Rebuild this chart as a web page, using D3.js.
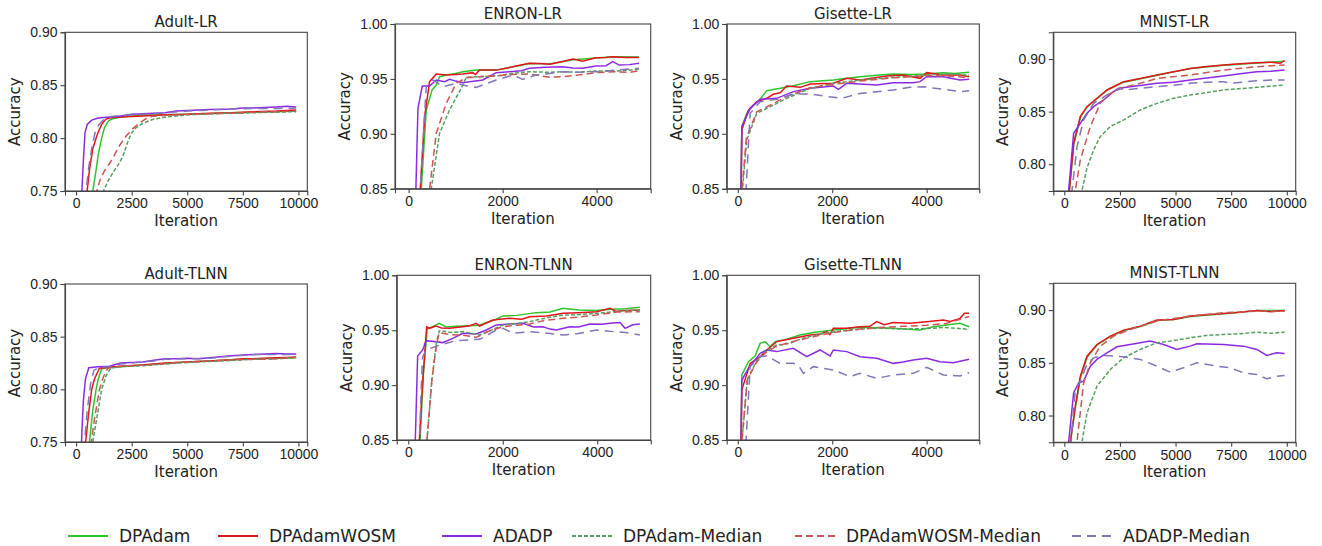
<!DOCTYPE html>
<meta charset="utf-8">
<style>
  body { margin: 0; background: #fff; }
  svg { font-family: "DejaVu Sans", sans-serif; }
  .axis path, .axis line { stroke: #444; stroke-width: 1.1px; }
  .axis text { fill: #222; font-size: 14px; }
  .title, .label { fill: #222; font-size: 15px; }
  .legend text { fill: #222; font-size: 17px; }
</style>
<body></body>
<script src="https://cdn.jsdelivr.net/npm/d3@7"></script>
<script>
// series names, legend order
var seriesNames = ["DPAdam", "DPAdamWOSM", "ADADP", "DPAdam-Median", "DPAdamWOSM-Median", "ADADP-Median"];

// [iteration, accuracy] pairs
var adultLR_DPAdam = [[0,0.62],[500,0.70],[750,0.75],[900,0.77],[1000,0.785],[1150,0.80],[1275,0.81],[1450,0.816],[1600,0.818],[2000,0.820],[2500,0.821],[3000,0.8215],[4000,0.822],[5000,0.8225],[6000,0.823],[7000,0.824],[8000,0.8245],[9000,0.825],[9900,0.8255]];
var adultLR_DPAdamWOSM = [[0,0.60],[300,0.68],[496,0.75],[600,0.77],[750,0.79],[900,0.80],[1000,0.806],[1150,0.813],[1340,0.818],[1600,0.8195],[2000,0.820],[2500,0.8205],[3000,0.821],[4000,0.822],[5000,0.8225],[6000,0.8235],[7000,0.824],[8000,0.825],[9000,0.8255],[9900,0.8265]];
var adultLR_ADADP = [[0,0.62],[200,0.73],[260,0.75],[330,0.78],[400,0.805],[500,0.813],[700,0.817],[1000,0.819],[1500,0.820],[2000,0.821],[2500,0.8225],[3000,0.823],[3500,0.8235],[4000,0.824],[4500,0.8255],[5000,0.826],[6000,0.827],[7000,0.8275],[7500,0.8285],[8000,0.8285],[8500,0.829],[9000,0.8295],[9500,0.830],[9900,0.8295]];
var adultLR_DPAdamMed = [[0,0.58],[800,0.70],[1230,0.75],[1450,0.76],[1650,0.767],[1900,0.775],[2100,0.7825],[2300,0.795],[2480,0.8045],[2700,0.810],[3000,0.814],[3500,0.818],[4060,0.820],[5000,0.822],[6000,0.823],[7000,0.8235],[8000,0.824],[9000,0.8245],[9900,0.825]];
var adultLR_DPAdamWOSMMed = [[0,0.58],[600,0.70],[930,0.75],[1100,0.762],[1300,0.770],[1505,0.776],[1700,0.783],[1955,0.793],[2250,0.802],[2555,0.809],[2900,0.815],[3310,0.8203],[4000,0.8215],[5000,0.8225],[6000,0.823],[7000,0.8235],[8000,0.8245],[9000,0.825],[9900,0.8255]];
var adultLR_ADADPMed = [[0,0.60],[300,0.70],[450,0.75],[550,0.77],[700,0.79],[850,0.805],[1000,0.812],[1300,0.819],[1600,0.8205],[2000,0.821],[2500,0.822],[3000,0.8225],[3500,0.823],[4000,0.824],[5000,0.8255],[6000,0.8265],[7000,0.8275],[8000,0.828],[9000,0.828],[9900,0.8285]];

var enronLR_DPAdam = [[0,0.50],[170,0.70],[269,0.85],[375,0.9217],[500,0.940],[588,0.9444],[658,0.952],[800,0.9535],[1000,0.955],[1154,0.9566],[1437,0.958],[1862,0.958],[2287,0.9615],[2570,0.964],[3000,0.9635],[3500,0.9675],[3986,0.969],[4340,0.9702],[4900,0.970]];
var enronLR_DPAdamWOSM = [[0,0.50],[150,0.70],[248,0.85],[340,0.9156],[446,0.9475],[588,0.9545],[800,0.9535],[1000,0.954],[1154,0.9545],[1366,0.9557],[1420,0.954],[1508,0.958],[1862,0.958],[2100,0.960],[2287,0.9617],[2570,0.9642],[2800,0.964],[3000,0.9633],[3300,0.966],[3500,0.968],[3700,0.966],[3986,0.9693],[4200,0.9695],[4340,0.9702],[4600,0.9695],[4900,0.9696]];
var enronLR_ADADP = [[0,0.50],[100,0.70],[149,0.84],[198,0.923],[290,0.9435],[446,0.9435],[588,0.949],[765,0.9475],[871,0.9496],[1000,0.948],[1154,0.9466],[1296,0.9475],[1579,0.949],[1862,0.9557],[2145,0.9566],[2400,0.9575],[2570,0.9596],[2900,0.9605],[3278,0.9611],[3500,0.960],[3703,0.9596],[3986,0.9617],[4200,0.962],[4340,0.9657],[4481,0.9626],[4700,0.963],[4900,0.9642]];
var enronLR_DPAdamMed = [[0,0.50],[350,0.75],[481,0.85],[658,0.9004],[871,0.9217],[1000,0.932],[1119,0.9414],[1225,0.9514],[1500,0.952],[1862,0.9526],[2200,0.955],[2570,0.9566],[3000,0.956],[3278,0.9566],[3600,0.956],[3986,0.9572],[4400,0.957],[4900,0.9587]];
var enronLR_DPAdamWOSMMed = [[0,0.50],[300,0.75],[446,0.85],[588,0.9004],[800,0.9277],[1012,0.946],[1225,0.951],[1500,0.952],[1862,0.9526],[2200,0.954],[2570,0.9545],[3000,0.9515],[3278,0.952],[3600,0.9535],[3986,0.9557],[4400,0.9565],[4700,0.956],[4900,0.9575]];
var enronLR_ADADPMed = [[0,0.50],[150,0.70],[248,0.85],[375,0.9429],[517,0.949],[729,0.9429],[1012,0.946],[1200,0.944],[1437,0.9423],[1862,0.949],[2216,0.9535],[2428,0.9496],[2711,0.9535],[3000,0.955],[3278,0.9566],[3600,0.956],[3986,0.9566],[4400,0.958],[4900,0.9596]];

var gisetteLR_DPAdam = [[0,0.60],[70,0.85],[85,0.9065],[190,0.9186],[332,0.9262],[473,0.9314],[614,0.9393],[896,0.9414],[1178,0.9438],[1531,0.9475],[2025,0.949],[2589,0.952],[3000,0.9535],[3294,0.9545],[3700,0.954],[4000,0.9545],[4353,0.9557],[4600,0.955],[4900,0.956]];
var gisetteLR_DPAdamWOSM = [[0,0.60],[70,0.85],[85,0.9034],[226,0.9216],[402,0.9292],[614,0.9323],[750,0.936],[896,0.9374],[1037,0.9435],[1319,0.9423],[1531,0.9453],[2025,0.946],[2307,0.9505],[2589,0.949],[3153,0.9526],[3506,0.9535],[3859,0.9505],[4000,0.9557],[4353,0.9535],[4706,0.9535],[4900,0.952]];
var gisetteLR_ADADP = [[0,0.60],[70,0.85],[85,0.9065],[261,0.9232],[473,0.9314],[825,0.9323],[1178,0.9384],[1531,0.9414],[2025,0.9435],[2131,0.9405],[2307,0.946],[2942,0.9444],[3294,0.9466],[3718,0.9466],[3859,0.9475],[4000,0.952],[4353,0.952],[4706,0.949],[4900,0.9496]];
var gisetteLR_DPAdamMed = [[0,0.60],[100,0.85],[190,0.8943],[402,0.9186],[684,0.9247],[1037,0.9323],[1531,0.9414],[2025,0.946],[2589,0.949],[3294,0.9514],[4000,0.9535],[4500,0.9545],[4900,0.9535]];
var gisetteLR_DPAdamWOSMMed = [[0,0.60],[90,0.85],[180,0.896],[402,0.920],[684,0.926],[1037,0.934],[1531,0.942],[2025,0.945],[2589,0.948],[3294,0.951],[4000,0.953],[4500,0.9525],[4900,0.951]];
var gisetteLR_ADADPMed = [[0,0.60],[176,0.85],[261,0.9186],[473,0.9292],[825,0.9314],[1178,0.9362],[1531,0.9362],[2025,0.9332],[2201,0.9323],[2589,0.9368],[2942,0.9384],[3294,0.9399],[3647,0.9423],[3929,0.9429],[4353,0.9405],[4706,0.9384],[4900,0.9393]];

var mnistLR_DPAdam = [[0,0.60],[230,0.775],[430,0.819],[730,0.845],[1030,0.8545],[1480,0.8625],[1930,0.8705],[2680,0.878],[3430,0.8812],[4180,0.8845],[4930,0.8878],[5680,0.891],[7180,0.894],[8680,0.8962],[9900,0.898]];
var mnistLR_DPAdamWOSM = [[0,0.60],[225,0.775],[419,0.820],[719,0.8453],[1018,0.8547],[1467,0.8627],[1916,0.8706],[2665,0.8785],[3413,0.8816],[4162,0.8848],[4910,0.888],[5659,0.8911],[6400,0.893],[7156,0.8943],[7900,0.8955],[8653,0.8965],[9300,0.897],[9701,0.8959],[9900,0.8984]];
var mnistLR_ADADP = [[0,0.60],[195,0.775],[419,0.8294],[719,0.8389],[1018,0.8484],[1317,0.8547],[1766,0.8611],[2216,0.869],[2440,0.8722],[2964,0.8737],[3500,0.875],[4162,0.8769],[4900,0.878],[5659,0.8801],[6400,0.882],[7156,0.8839],[7900,0.886],[8653,0.888],[9300,0.8885],[9900,0.8896]];
var mnistLR_DPAdamMed = [[0,0.60],[793,0.775],[1018,0.7965],[1317,0.8136],[1617,0.8263],[2066,0.8358],[2665,0.8421],[3413,0.8516],[4162,0.8579],[4910,0.8627],[5659,0.8658],[7156,0.8706],[8653,0.8731],[9900,0.8753]];
var mnistLR_DPAdamWOSMMed = [[0,0.60],[494,0.775],[719,0.8041],[1168,0.8358],[1617,0.8579],[2066,0.8674],[2665,0.8731],[3413,0.8769],[4162,0.8816],[5659,0.8848],[7156,0.8896],[8653,0.8927],[9900,0.8943]];
var mnistLR_ADADPMed = [[0,0.60],[345,0.775],[569,0.8168],[868,0.8421],[1317,0.8579],[1916,0.8658],[2515,0.8722],[2665,0.8706],[3413,0.8722],[4162,0.8737],[4900,0.875],[5659,0.8769],[6400,0.878],[7156,0.8785],[7500,0.877],[8653,0.8794],[9300,0.880],[9900,0.880]];

var adultTL_DPAdam = [[0,0.60],[400,0.70],[600,0.75],[750,0.78],[900,0.80],[1000,0.81],[1150,0.8195],[1500,0.821],[2000,0.8215],[3000,0.823],[4000,0.8245],[5000,0.826],[6000,0.827],[7000,0.828],[8000,0.829],[9000,0.8295],[9900,0.830]];
var adultTL_DPAdamWOSM = [[0,0.60],[300,0.70],[430,0.75],[550,0.775],[700,0.80],[830,0.81],[1050,0.82],[1500,0.821],[2000,0.822],[3000,0.823],[4000,0.825],[5000,0.826],[6000,0.827],[7000,0.828],[7500,0.829],[8000,0.829],[9000,0.830],[9900,0.8305]];
var adultTL_ADADP = [[0,0.62],[200,0.72],[260,0.76],[330,0.79],[420,0.81],[570,0.8205],[800,0.821],[1000,0.8215],[1500,0.822],[2000,0.825],[2500,0.8255],[3000,0.826],[3500,0.8275],[4000,0.829],[4500,0.829],[5000,0.8295],[5500,0.829],[6000,0.830],[6500,0.831],[7000,0.832],[7500,0.8325],[8000,0.833],[8500,0.8335],[9000,0.834],[9500,0.8335],[9900,0.8335]];
var adultTL_DPAdamMed = [[0,0.58],[550,0.70],[750,0.75],[950,0.775],[1150,0.80],[1350,0.813],[1550,0.82],[2000,0.8215],[3000,0.8225],[4000,0.824],[5000,0.8255],[6000,0.8265],[7000,0.8275],[8000,0.8285],[9000,0.829],[9900,0.8305]];
var adultTL_DPAdamWOSMMed = [[0,0.58],[500,0.70],[680,0.75],[850,0.775],[1050,0.80],[1250,0.813],[1430,0.82],[2000,0.822],[3000,0.823],[4000,0.8245],[5000,0.826],[6000,0.827],[7000,0.828],[8000,0.8285],[9000,0.829],[9900,0.8305]];
var adultTL_ADADPMed = [[0,0.60],[300,0.71],[380,0.75],[500,0.78],[650,0.805],[800,0.818],[1000,0.8205],[1500,0.8215],[2000,0.824],[2500,0.825],[3000,0.826],[3500,0.827],[4000,0.8285],[5000,0.829],[6000,0.8295],[7000,0.8315],[8000,0.833],[9000,0.833],[9900,0.833]];

var enronTL_DPAdam = [[0,0.50],[160,0.70],[250,0.85],[320,0.91],[400,0.951],[500,0.953],[658,0.9563],[800,0.953],[1000,0.9535],[1300,0.954],[1500,0.9545],[1862,0.960],[2000,0.963],[2300,0.9635],[2700,0.966],[3000,0.9665],[3278,0.970],[3600,0.9685],[3986,0.968],[4300,0.969],[4600,0.9695],[4900,0.9708]];
var enronTL_DPAdamWOSM = [[0,0.50],[150,0.70],[234,0.85],[300,0.90],[389,0.9532],[446,0.9517],[588,0.9538],[700,0.952],[871,0.9517],[1154,0.9532],[1300,0.954],[1437,0.9563],[1508,0.9538],[1791,0.9593],[2145,0.9608],[2400,0.960],[2570,0.9623],[2924,0.963],[3278,0.9654],[3600,0.966],[3986,0.9669],[4269,0.9699],[4400,0.967],[4481,0.9678],[4900,0.9684]];
var enronTL_ADADP = [[0,0.50],[100,0.70],[149,0.85],[198,0.9265],[304,0.932],[375,0.9405],[500,0.940],[729,0.9387],[942,0.9426],[1154,0.9472],[1437,0.9466],[1650,0.9502],[1862,0.9548],[2145,0.9557],[2428,0.9563],[2650,0.953],[2853,0.9532],[3000,0.951],[3136,0.9502],[3420,0.9532],[3600,0.953],[3844,0.9557],[4100,0.9555],[4269,0.9563],[4481,0.9569],[4588,0.9517],[4750,0.955],[4900,0.9557]];
var enronTL_DPAdamMed = [[0,0.50],[250,0.75],[396,0.85],[500,0.905],[600,0.940],[658,0.9496],[900,0.948],[1154,0.9487],[1508,0.9456],[1800,0.951],[2004,0.9548],[2300,0.956],[2570,0.9578],[2900,0.961],[3278,0.9639],[3600,0.964],[3986,0.9654],[4400,0.967],[4900,0.9684]];
var enronTL_DPAdamWOSMMed = [[0,0.50],[250,0.75],[396,0.85],[500,0.905],[600,0.938],[658,0.9478],[900,0.946],[1154,0.9455],[1437,0.9435],[1700,0.949],[2004,0.9532],[2300,0.9545],[2570,0.9557],[2900,0.959],[3278,0.9608],[3600,0.962],[3986,0.9639],[4400,0.9665],[4900,0.9669]];
var enronTL_ADADPMed = [[0,0.50],[150,0.70],[234,0.85],[300,0.925],[375,0.932],[658,0.9365],[1012,0.9405],[1508,0.9417],[1862,0.9502],[2004,0.9517],[2216,0.9472],[2570,0.9487],[2900,0.9475],[3278,0.9456],[3600,0.947],[3986,0.9502],[4340,0.9487],[4600,0.948],[4900,0.9456]];

var gisetteTL_DPAdam = [[0,0.60],[70,0.85],[85,0.9092],[226,0.9213],[367,0.9265],[473,0.938],[578,0.9396],[684,0.935],[790,0.9396],[1037,0.9417],[1319,0.9456],[1601,0.9478],[2025,0.9502],[2589,0.9526],[3294,0.9517],[3859,0.9502],[4141,0.9532],[4423,0.9548],[4706,0.9563],[4900,0.9532]];
var gisetteTL_DPAdamWOSM = [[0,0.60],[70,0.85],[85,0.8955],[261,0.9198],[473,0.9259],[614,0.932],[825,0.9396],[1178,0.9426],[1531,0.9456],[1750,0.9465],[1884,0.9487],[1950,0.946],[2025,0.9517],[2307,0.9517],[2589,0.9532],[2800,0.9535],[2942,0.9578],[3100,0.955],[3294,0.9569],[3647,0.9563],[4000,0.9578],[4353,0.9593],[4500,0.958],[4706,0.9608],[4800,0.9654],[4900,0.9654]];
var gisetteTL_ADADP = [[0,0.60],[70,0.85],[85,0.9046],[226,0.9153],[473,0.9289],[614,0.932],[825,0.9305],[1178,0.9335],[1460,0.9259],[1743,0.932],[1954,0.9265],[2025,0.932],[2307,0.9305],[2589,0.9259],[2942,0.9244],[3294,0.9198],[3500,0.921],[3718,0.9229],[4000,0.9244],[4282,0.9213],[4564,0.9204],[4900,0.9235]];
var gisetteTL_DPAdamMed = [[0,0.60],[90,0.85],[200,0.905],[400,0.922],[600,0.931],[800,0.936],[1100,0.938],[1400,0.943],[1800,0.947],[2200,0.9495],[2600,0.951],[3000,0.952],[3500,0.951],[4000,0.9515],[4400,0.9525],[4900,0.9508]];
var gisetteTL_DPAdamWOSMMed = [[0,0.60],[90,0.85],[200,0.905],[400,0.921],[600,0.930],[800,0.935],[1100,0.939],[1400,0.942],[1800,0.946],[2200,0.949],[2600,0.951],[3000,0.9525],[3500,0.9535],[4000,0.9545],[4400,0.956],[4900,0.9625]];
var gisetteTL_ADADPMed = [[0,0.60],[176,0.85],[261,0.9168],[473,0.9259],[614,0.9265],[896,0.9198],[1178,0.9198],[1300,0.917],[1390,0.9107],[1601,0.9168],[2025,0.9138],[2378,0.9077],[2589,0.9107],[2942,0.9062],[3294,0.9092],[3718,0.9107],[4000,0.9162],[4353,0.9092],[4706,0.9083],[4900,0.9113]];

var mnistTL_DPAdam = [[0,0.60],[280,0.775],[500,0.808],[730,0.836],[1030,0.8555],[1480,0.867],[2080,0.875],[2680,0.8805],[3430,0.8845],[4180,0.890],[4930,0.891],[5680,0.894],[7180,0.8965],[8680,0.8995],[9900,0.8995]];
var mnistTL_DPAdamWOSM = [[0,0.60],[270,0.775],[494,0.8089],[719,0.8373],[1018,0.8563],[1467,0.8674],[2066,0.8753],[2665,0.881],[3413,0.8848],[4162,0.8905],[4910,0.8911],[5659,0.8943],[6400,0.8955],[7156,0.8968],[7900,0.898],[8653,0.8997],[9300,0.8985],[9900,0.8997]];
var mnistTL_ADADP = [[0,0.60],[195,0.775],[419,0.8215],[644,0.831],[868,0.8326],[1168,0.8468],[1467,0.8532],[1916,0.8595],[2365,0.8652],[2964,0.8674],[3862,0.8706],[4461,0.8674],[5060,0.8627],[5659,0.8658],[5958,0.868],[7156,0.8674],[8054,0.8658],[8653,0.8627],[9102,0.857],[9551,0.8595],[9900,0.8589]];
var mnistTL_DPAdamMed = [[0,0.60],[793,0.775],[1018,0.8025],[1467,0.8278],[2066,0.8437],[2665,0.8547],[3413,0.8627],[4162,0.869],[4910,0.871],[5659,0.8737],[6400,0.876],[7156,0.8769],[7900,0.8775],[8653,0.8791],[9300,0.878],[9900,0.8791]];
var mnistTL_DPAdamWOSMMed = [[0,0.60],[569,0.775],[868,0.831],[1168,0.850],[1617,0.8658],[2216,0.8753],[2964,0.8816],[4162,0.8896],[5659,0.8943],[7156,0.8975],[8653,0.899],[9900,0.899]];
var mnistTL_ADADPMed = [[0,0.60],[300,0.775],[494,0.8247],[719,0.8326],[1018,0.8484],[1317,0.8547],[1766,0.857],[2665,0.8557],[3413,0.8532],[4162,0.8468],[4760,0.8411],[5359,0.8453],[5958,0.850],[6856,0.8468],[7455,0.8453],[8054,0.8405],[8653,0.8389],[9102,0.8348],[9551,0.8373],[9900,0.838]];

// tick values
var ticksX10k = [0, 2500, 5000, 7500, 10000];
var ticksX5k = [0, 2000, 4000];
var ticksYAdult = [0.75, 0.80, 0.85, 0.90];
var ticksYHigh = [0.85, 0.90, 0.95, 1.00];
var ticksYMnist = [0.80, 0.85, 0.90];

// styles
var colors = ["#2ec42e", "#e0161b", "#8a2be2", "#55a05f", "#cc5555", "#8474b8"];
var dashes = [null, null, null, "4,2", "7,4", "9,6"];

var width = 1322, height = 546;
var svg = d3.select("body").append("svg")
    .attr("width", width)
    .attr("height", height);

// panel boxes: [left, top, right, bottom]
var panels = [
  {title: "Adult-LR", box: [65, 32.3, 307.3, 191], xd: [-500, 10400], yd: [0.75, 0.90], xt: ticksX10k, yt: ticksYAdult,
   data: [adultLR_DPAdam, adultLR_DPAdamWOSM, adultLR_ADADP, adultLR_DPAdamMed, adultLR_DPAdamWOSMMed, adultLR_ADADPMed]},
  {title: "ENRON-LR", box: [395, 24, 650.7, 188.7], xd: [-290, 5150], yd: [0.85, 1.00], xt: ticksX5k, yt: ticksYHigh,
   data: [enronLR_DPAdam, enronLR_DPAdamWOSM, enronLR_ADADP, enronLR_DPAdamMed, enronLR_DPAdamWOSMMed, enronLR_ADADPMed]},
  {title: "Gisette-LR", box: [726.7, 24, 979.3, 188.7], xd: [-235, 5115], yd: [0.85, 1.00], xt: ticksX5k, yt: ticksYHigh,
   data: [gisetteLR_DPAdam, gisetteLR_DPAdamWOSM, gisetteLR_ADADP, gisetteLR_DPAdamMed, gisetteLR_DPAdamWOSMMed, gisetteLR_ADADPMed]},
  {title: "MNIST-LR", box: [1053.3, 32.3, 1295.7, 191], xd: [-495, 10400], yd: [0.7746, 0.9254], xt: ticksX10k, yt: ticksYMnist,
   data: [mnistLR_DPAdam, mnistLR_DPAdamWOSM, mnistLR_ADADP, mnistLR_DPAdamMed, mnistLR_DPAdamWOSMMed, mnistLR_ADADPMed]},
  {title: "Adult-TLNN", box: [65, 284, 307.3, 442], xd: [-500, 10400], yd: [0.75, 0.90], xt: ticksX10k, yt: ticksYAdult,
   data: [adultTL_DPAdam, adultTL_DPAdamWOSM, adultTL_ADADP, adultTL_DPAdamMed, adultTL_DPAdamWOSMMed, adultTL_ADADPMed]},
  {title: "ENRON-TLNN", box: [396.7, 275.3, 650.7, 440], xd: [-245, 5130], yd: [0.85, 1.00], xt: ticksX5k, yt: ticksYHigh,
   data: [enronTL_DPAdam, enronTL_DPAdamWOSM, enronTL_ADADP, enronTL_DPAdamMed, enronTL_DPAdamWOSMMed, enronTL_ADADPMed]},
  {title: "Gisette-TLNN", box: [726.7, 275.3, 979.3, 440], xd: [-235, 5115], yd: [0.85, 1.00], xt: ticksX5k, yt: ticksYHigh,
   data: [gisetteTL_DPAdam, gisetteTL_DPAdamWOSM, gisetteTL_ADADP, gisetteTL_DPAdamMed, gisetteTL_DPAdamWOSMMed, gisetteTL_ADADPMed]},
  {title: "MNIST-TLNN", box: [1053.3, 283.3, 1295.7, 442.3], xd: [-495, 10400], yd: [0.7746, 0.9254], xt: ticksX10k, yt: ticksYMnist,
   data: [mnistTL_DPAdam, mnistTL_DPAdamWOSM, mnistTL_ADADP, mnistTL_DPAdamMed, mnistTL_DPAdamWOSMMed, mnistTL_ADADPMed]}
];

panels.forEach(function(p, i) {
  var w = p.box[2] - p.box[0], h = p.box[3] - p.box[1];
  var g = svg.append("g").attr("transform", "translate(" + p.box[0] + "," + p.box[1] + ")");

  var x = d3.scaleLinear().domain(p.xd).range([0, w]);
  var y = d3.scaleLinear().domain(p.yd).range([h, 0]);

  g.append("clipPath").attr("id", "clip" + i)
    .append("rect").attr("width", w).attr("height", h);

  var line = d3.line()
      .x(function(d) { return x(d[0]); })
      .y(function(d) { return y(d[1]); });

  var plot = g.append("g").attr("clip-path", "url(#clip" + i + ")");
  p.data.forEach(function(s, k) {
    plot.append("path")
      .datum(s)
      .attr("d", line)
      .attr("fill", "none")
      .attr("stroke", colors[k])
      .attr("stroke-width", 1.5)
      .attr("stroke-dasharray", dashes[k]);
  });

  g.append("g").attr("class", "axis")
    .attr("transform", "translate(0," + h + ")")
    .call(d3.axisBottom(x).tickValues(p.xt).tickFormat(d3.format("d")).tickSizeOuter(0).tickSize(4.5).tickPadding(3));
  g.append("g").attr("class", "axis")
    .call(d3.axisLeft(y).tickValues(p.yt).tickFormat(d3.format(".2f")).tickSizeOuter(0).tickSize(4.5).tickPadding(3));

  g.append("rect")
    .attr("width", w).attr("height", h)
    .attr("fill", "none").attr("stroke", "#444").attr("stroke-width", 1.1);

  g.append("text").attr("class", "title")
    .attr("x", w / 2).attr("y", -5)
    .attr("text-anchor", "middle")
    .text(p.title);

  g.append("text").attr("class", "label")
    .attr("x", w / 2).attr("y", h + 35)
    .attr("text-anchor", "middle")
    .text("Iteration");

  g.append("text").attr("class", "label")
    .attr("transform", "translate(-45," + (h / 2) + ") rotate(-90)")
    .attr("text-anchor", "middle")
    .text("Accuracy");
});

// legend along the bottom
var legendX = [68, 218, 442, 572, 795, 1072];
var legend = svg.append("g").attr("class", "legend");
seriesNames.forEach(function(name, k) {
  var lg = legend.append("g").attr("transform", "translate(" + legendX[k] + ",536)");
  lg.append("line")
    .attr("x1", 0).attr("x2", 40)
    .attr("stroke", colors[k])
    .attr("stroke-width", 2)
    .attr("stroke-dasharray", dashes[k]);
  lg.append("text")
    .attr("x", 51).attr("dy", "0.35em")
    .text(name);
});
</script>
